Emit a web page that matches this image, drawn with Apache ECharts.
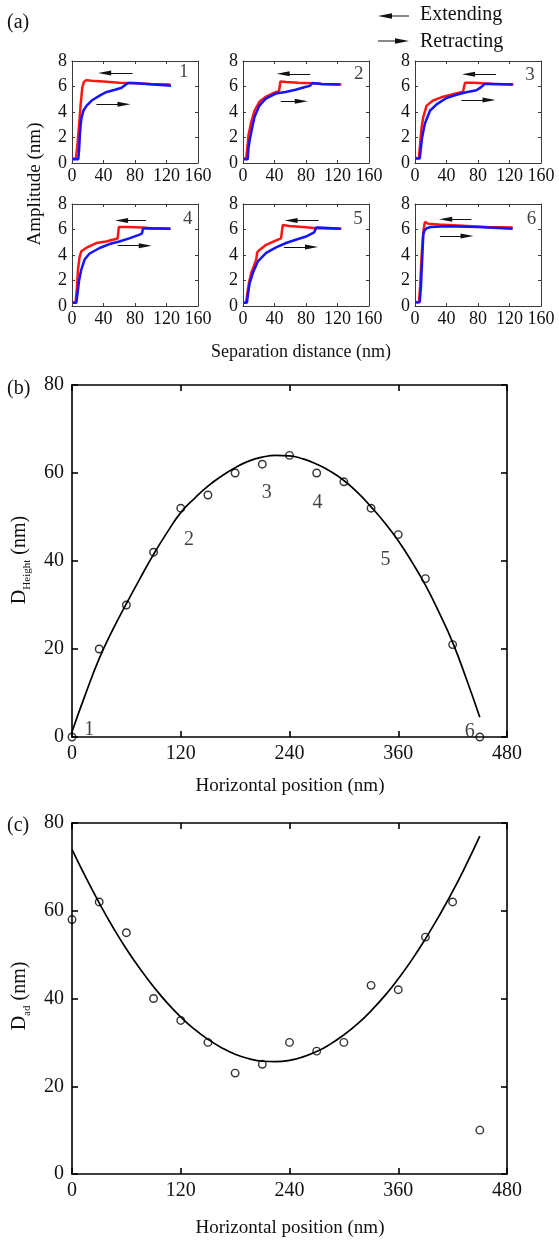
<!DOCTYPE html>
<html>
<head>
<meta charset="utf-8">
<script src="https://cdn.jsdelivr.net/npm/echarts@6/dist/echarts.min.js"></script>
<style>
  html, body { margin: 0; padding: 0; background: #fff; }
  #chart { width: 559px; height: 1241px; }
</style>
</head>
<body>
<div id="chart"></div>
<script>
// ---------- (a) amplitude vs. separation, [separation (nm), amplitude (nm)] ----------
const sepTicks = [0, 40, 80, 120, 160];
const ampTicks = [0, 2, 4, 6, 8];

const extending1 = [[0.5,0.35],[5,0.35],[7,1.5],[9,3.0],[11,4.6],[13,5.9],[15,6.35],[18,6.5],[25,6.45],[40,6.4],[60,6.3],[80,6.25],[100,6.2],[125,6.15]];
const retracting1 = [[0.5,0.3],[8,0.3],[9,1.0],[10,2.2],[11,3.0],[12,3.5],[14.4,4.1],[18.6,4.5],[25,4.9],[35.6,5.3],[44,5.57],[54.6,5.75],[63,5.9],[67,6.1],[71.5,6.27],[78,6.27],[99,6.17],[125.7,6.05]];

const extending2 = [[1,0.35],[4,0.35],[5.5,1.2],[7,2.2],[10.4,3.2],[14.6,4.1],[20.8,4.8],[29,5.2],[37.5,5.45],[45.8,5.65],[47,5.7],[47.5,6.4],[55,6.35],[70,6.3],[88,6.25],[100,6.2],[125,6.15]];
const retracting2 = [[1,0.3],[6,0.3],[7,1.2],[8.5,1.8],[10.4,2.4],[14.6,3.6],[20.8,4.5],[29,5.05],[41.7,5.45],[54,5.57],[66.7,5.75],[79,5.96],[85,6.05],[88,6.27],[100,6.2],[123,6.15]];

const extending3 = [[1,0.4],[5,0.4],[6.5,1.5],[8.4,2.8],[10.5,3.6],[14.7,4.5],[23,4.9],[35.8,5.2],[48.4,5.4],[61,5.6],[63,5.65],[63.5,6.3],[75,6.3],[86,6.25],[100,6.2],[125,6.15]];
const retracting3 = [[1,0.35],[6,0.35],[7.5,1.2],[9,2.0],[12.6,3.1],[19,4.1],[27.4,4.6],[40,5.1],[52.6,5.35],[65,5.55],[78,5.7],[84,5.95],[88.4,6.2],[103,6.2],[124,6.15]];

const extending4 = [[1,0.26],[4.5,0.26],[6,1.2],[7.6,2.86],[9.5,3.8],[11.8,4.3],[18,4.55],[30.7,4.94],[43.3,5.06],[51.7,5.2],[58,5.3],[59,5.35],[59.5,6.2],[70,6.2],[89.5,6.15],[100,6.1],[125,6.05]];
const retracting4 = [[1,0.26],[5.5,0.26],[7,1.0],[9,2.0],[11.8,2.86],[16,3.64],[22,4.1],[35,4.55],[47.5,4.86],[60,5.06],[72.7,5.3],[85,5.58],[89,5.7],[90,6.05],[93.7,6.1],[125,6.05]];

const extending5 = [[1,0.26],[4,0.26],[5.5,1.0],[7.5,1.8],[10.5,2.6],[16.8,3.64],[18,4.2],[21,4.4],[29.4,4.8],[42,5.14],[48.3,5.3],[50,5.4],[50.5,6.36],[58.8,6.28],[80,6.18],[92.4,6.1],[125,6.05]];
const retracting5 = [[1,0.26],[5,0.26],[6.5,1.0],[8.5,1.8],[12.6,2.6],[18.9,3.5],[29.4,4.16],[42,4.6],[54.6,4.94],[67,5.2],[80,5.45],[90.3,5.77],[92,5.9],[93,6.15],[96.6,6.16],[124,6.05]];

const extending6 = [[1,0.3],[5,0.3],[6.5,1.5],[8.4,4.0],[10.5,5.8],[12.6,6.6],[16.8,6.45],[30,6.4],[60,6.3],[90,6.2],[124,6.15]];
const retracting6 = [[1,0.3],[6,0.3],[7.5,1.5],[9,3.5],[10.5,5.6],[12,5.9],[14.7,6.1],[20,6.2],[40,6.25],[80,6.2],[124,6.05]];

// direction arrows inside each small panel: [tail x, head x, y]
const arrows1 = [[77,41.5,7.06],[31,66,4.6]];
const arrows2 = [[85.4,51,7.0],[48,74,4.84]];
const arrows3 = [[103,68,6.96],[59,94,4.94]];
const arrows4 = [[94,63,6.7],[58,93,4.73]];
const arrows5 = [[96,61,6.7],[52,87,4.62]];
const arrows6 = [[71.6,39,6.8],[31.6,66,5.5]];

// panel numbers [x, y, text]
const panelNumbers = [[142,7.1,'1'],[147,7.0,'2'],[146,6.9,'3'],[147,6.8,'4'],[146,6.8,'5'],[148,6.8,'6']];

// ---------- (b) and (c): values along the horizontal position ----------
const posTicks = [0, 120, 240, 360, 480];
const nmTicks = [0, 20, 40, 60, 80];
const positions = [0, 30, 60, 90, 120, 150, 180, 210, 240, 270, 300, 330, 360, 390, 420, 450];
const heightValues = [0, 20, 30, 42, 52, 55, 60, 62, 64, 60, 58, 52, 46, 36, 21, 0];
const adValues = [58, 62, 55, 40, 35, 30, 23, 25, 30, 28, 30, 43, 42, 54, 62, 10];

// fitted curves, sampled every 15 nm
const fitPositions = [0, 15, 30, 45, 60, 75, 90, 105, 120, 135, 150, 165, 180, 195, 210, 225,
                      240, 255, 270, 285, 300, 315, 330, 345, 360, 375, 390, 405, 420, 435, 450];
const heightFit = [1.2, 9.8, 17.8, 24.4, 30.3, 36, 41.5, 46.5, 51, 54.2, 57, 59.3, 61.2, 62.7, 63.6, 64,
                   63.9, 63.2, 62, 60.4, 58.3, 55.6, 52.3, 48.7, 44.6, 39.8, 34.5, 28.3, 21.5, 13.3, 4.5];
const adFit = [74, 67.7, 61.8, 56.3, 51.3, 46.8, 42.7, 39.0, 35.8, 33.0, 30.7, 28.8, 27.3, 26.3, 25.7, 25.6,
               25.9, 26.7, 27.9, 29.6, 31.7, 34.2, 37.2, 40.6, 44.5, 48.8, 53.6, 58.8, 64.4, 70.5, 77];

// numbered positions marked in (b): [x, y, text]
const heightMarks = [[19,1.6,'1'],[129,44.8,'2'],[215,55.5,'3'],[271,53.2,'4'],[346,40.2,'5'],[439,1.2,'6']];

// ---------- drawing ----------
const FONT = '"Liberation Serif", "Times New Roman", serif';
const grids = [], xAxes = [], yAxes = [], series = [];

const smallStyle = { axisColor: '#3a3a3a', axisWidth: 1, tickLen: 3, fontSize: 18, xMargin: 4, yMargin: 5 };
const bigStyle = { axisColor: '#000', axisWidth: 1.6, tickLen: 6, fontSize: 20, xMargin: 7, yMargin: 8 };

function axis(gi, ticks, position, showLabel, margin, st) {
  return {
    type: 'value', gridIndex: gi, position: position,
    min: ticks[0], max: ticks[ticks.length - 1], interval: ticks[1] - ticks[0],
    splitLine: { show: false },
    axisLine: { show: true, onZero: false, lineStyle: { color: st.axisColor, width: st.axisWidth } },
    axisTick: { show: true, inside: true, length: st.tickLen, lineStyle: { color: st.axisColor, width: st.axisWidth } },
    axisLabel: { show: showLabel, margin: margin, color: '#111', fontFamily: FONT, fontSize: st.fontSize,
                 showMinLabel: true, showMaxLabel: true, hideOverlap: false }
  };
}

function addPanel(box, xt, yt, st) {
  const gi = grids.length;
  grids.push(Object.assign({ containLabel: false, outerBoundsMode: 'none' }, box));
  xAxes.push(axis(gi, xt, 'bottom', true, st.xMargin, st), axis(gi, xt, 'top', false, 0, st));
  yAxes.push(axis(gi, yt, 'left', true, st.yMargin, st), axis(gi, yt, 'right', false, 0, st));
  return { xAxisIndex: 2 * gi, yAxisIndex: 2 * gi };
}

function curve(ref, data, color, z) {
  return Object.assign({
    type: 'line', data: data, symbol: 'none', showSymbol: false, smooth: false,
    lineStyle: { color: color, width: 2.5 }, itemStyle: { color: color },
    silent: true, animation: false, z: z
  }, ref);
}

function annotations(ref, arrows, number) {
  return Object.assign({
    type: 'scatter', data: [number], symbolSize: 0, silent: true, animation: false, z: 5,
    label: { show: true, position: 'inside', formatter: p => p.value[2], color: '#111', fontFamily: FONT, fontSize: 19 },
    markLine: {
      silent: true, animation: false, label: { show: false },
      lineStyle: { color: '#111', width: 1, type: 'solid' },
      emphasis: { disabled: true },
      data: arrows.map(a => [
        { coord: [a[0], a[2]], symbol: 'none' },
        { coord: [a[1], a[2]], symbol: 'triangle', symbolSize: [5, 13] }
      ])
    }
  }, ref);
}

const colLefts = [72, 243, 415];
const rowTops = [61, 204];
const smallCurves = [
  [extending1, retracting1, arrows1], [extending2, retracting2, arrows2], [extending3, retracting3, arrows3],
  [extending4, retracting4, arrows4], [extending5, retracting5, arrows5], [extending6, retracting6, arrows6]
];
smallCurves.forEach((c, i) => {
  const ref = addPanel({ left: colLefts[i % 3], top: rowTops[Math.floor(i / 3)], width: 126, height: 102 },
                       sepTicks, ampTicks, smallStyle);
  series.push(curve(ref, c[0], '#ff1414', 2));
  series.push(curve(ref, c[1], '#1414ff', 3));
  series.push(annotations(ref, c[2], panelNumbers[i]));
});

function bigPanel(box, values, fit, marks) {
  const ref = addPanel(box, posTicks, nmTicks, bigStyle);
  series.push(Object.assign({
    type: 'line', data: fitPositions.map((x, i) => [x, fit[i]]), symbol: 'none', showSymbol: false,
    smooth: true, lineStyle: { color: '#000', width: 1.7 }, silent: true, animation: false, z: 2
  }, ref));
  series.push(Object.assign({
    type: 'scatter', data: positions.map((x, i) => [x, values[i]]), symbol: 'circle', symbolSize: 7.5,
    itemStyle: { color: 'rgba(0,0,0,0)', borderColor: '#000', borderWidth: 1.4 },
    clip: false, silent: true, animation: false, z: 3
  }, ref));
  if (marks) {
    series.push(Object.assign({
      type: 'scatter', data: marks, symbolSize: 0, clip: false, silent: true, animation: false, z: 4,
      label: { show: true, position: 'inside', formatter: p => p.value[2], color: '#111', fontFamily: FONT, fontSize: 20 }
    }, ref));
  }
}
bigPanel({ left: 72, top: 385, width: 435, height: 352 }, heightValues, heightFit, heightMarks);
bigPanel({ left: 72, top: 823, width: 435, height: 351 }, adValues, adFit, null);

// titles, panel letters and the direction key
const txt = (text, x, y, size, extra) => Object.assign({
  type: 'text', x: x, y: y, silent: true,
  style: Object.assign({ text: text, fill: '#111', font: size + 'px ' + FONT, align: 'center', verticalAlign: 'middle' },
                       extra && extra.style)
}, extra && extra.el);

const subRich = {
  m: { fontFamily: FONT, fontSize: 20, lineHeight: 26, fill: '#111' },
  s: { fontFamily: FONT, fontSize: 11, lineHeight: 26, verticalAlign: 'bottom', fill: '#111' }
};

const graphic = [
  txt('(a)', 7, 23, 20, { style: { align: 'left' } }),
  txt('(b)', 7, 389, 20, { style: { align: 'left' } }),
  txt('(c)', 7, 826, 20, { style: { align: 'left' } }),
  txt('Extending', 420, 15, 20, { style: { align: 'left' } }),
  txt('Retracting', 420, 42, 20, { style: { align: 'left' } }),
  { type: 'line', silent: true, shape: { x1: 388, y1: 16, x2: 409, y2: 16 }, style: { stroke: '#111', lineWidth: 1 } },
  { type: 'polygon', silent: true, shape: { points: [[378, 16], [392, 13.3], [392, 18.7]] }, style: { fill: '#111' } },
  { type: 'line', silent: true, shape: { x1: 378, y1: 41, x2: 399, y2: 41 }, style: { stroke: '#111', lineWidth: 1 } },
  { type: 'polygon', silent: true, shape: { points: [[409, 41], [395, 38.3], [395, 43.7]] }, style: { fill: '#111' } },
  txt('Separation distance (nm)', 301, 352, 18),
  txt('Amplitude (nm)', 35, 184, 19, { el: { rotation: Math.PI / 2 } }),
  txt('Horizontal position (nm)', 290, 786, 19),
  txt('Horizontal position (nm)', 290, 1228, 19),
  txt('{m|D}{s|Height}{m| (nm)}', 20, 560, 20, { el: { rotation: Math.PI / 2 }, style: { rich: subRich } }),
  txt('{m|D}{s|ad}{m| (nm)}', 20, 996, 20, { el: { rotation: Math.PI / 2 }, style: { rich: subRich } })
];

const chart = echarts.init(document.getElementById('chart'), null, { renderer: 'canvas' });
chart.setOption({
  animation: false,
  backgroundColor: '#fff',
  grid: grids,
  xAxis: xAxes,
  yAxis: yAxes,
  series: series,
  graphic: graphic
});
</script>
</body>
</html>
